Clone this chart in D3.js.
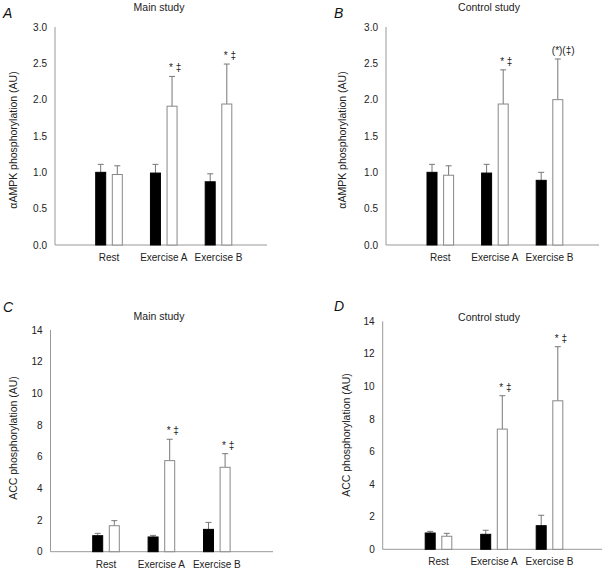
<!DOCTYPE html>
<html><head><meta charset="utf-8">
<script src="https://cdn.jsdelivr.net/npm/d3@7"></script>
<style>body{margin:0;background:#fff}svg{display:block;font-family:"Liberation Sans",Arial,sans-serif}</style>
</head><body><svg id="c" width="605" height="569"></svg>
<script>
const categories = ["Rest", "Exercise A", "Exercise B"];
// Panel A: αAMPK, main study
const aBlack = [1.00, 0.99, 0.87], aBlackErr = [0.11, 0.12, 0.11];
const aWhite = [0.97, 1.91, 1.94], aWhiteErr = [0.12, 0.41, 0.55];
const aNotes = ["", "* ‡", "* ‡"];
// Panel B: αAMPK, control study
const bBlack = [1.00, 0.99, 0.89], bBlackErr = [0.11, 0.12, 0.11];
const bWhite = [0.96, 1.94, 2.00], bWhiteErr = [0.13, 0.47, 0.56];
const bNotes = ["", "* ‡", "(*)(‡)"];
// Panel C: ACC, main study
const cBlack = [1.01, 0.93, 1.41], cBlackErr = [0.15, 0.10, 0.44];
const cWhite = [1.64, 5.75, 5.33], cWhiteErr = [0.32, 1.35, 0.86];
const cNotes = ["", "* ‡", "* ‡"];
// Panel D: ACC, control study
const dBlack = [1.00, 0.92, 1.45], dBlackErr = [0.10, 0.25, 0.64];
const dWhite = [0.80, 7.38, 9.12], dWhiteErr = [0.18, 2.05, 3.32];
const dNotes = ["", "* ‡", "* ‡"];
const ampkTicks = [0, 0.5, 1.0, 1.5, 2.0, 2.5, 3.0];
const accTicks = [0, 2, 4, 6, 8, 10, 12, 14];

const svg = d3.select("#c");
function panel(o) {
  const g = svg.append("g");
  const y = d3.scaleLinear().domain([0, o.yMax]).range([o.y0, o.y1]);
  const x = d3.scalePoint().domain(categories).range([o.c0, o.c2]);
  // axes
  g.append("line").attr("x1", o.ax).attr("x2", o.ax).attr("y1", o.y1).attr("y2", o.y0).attr("stroke", "#999").attr("stroke-width", 1);
  g.append("line").attr("x1", o.ax).attr("x2", o.axEnd).attr("y1", o.y0).attr("y2", o.y0).attr("stroke", "#999").attr("stroke-width", 1);
  g.selectAll(".yt").data(o.ticks).enter().append("text")
    .attr("x", o.ax - 8).attr("y", d => y(d)).attr("dy", "0.35em")
    .attr("text-anchor", "end").attr("font-size", 10).attr("fill", "#222")
    .text(d => o.fmt(d));
  g.selectAll(".xt").data(categories).enter().append("text")
    .attr("x", d => x(d)).attr("y", o.y0 + 16)
    .attr("text-anchor", "middle").attr("font-size", 10).attr("fill", "#222").text(d => d);
  const bw = 10, off = 8.3;
  const series = [
    {vals: o.black, errs: o.blackErr, dx: -off, fill: "#000", stroke: "#000", notes: null},
    {vals: o.white, errs: o.whiteErr, dx: off, fill: "#fff", stroke: "#888", notes: o.notes}
  ];
  series.forEach(s => {
    categories.forEach((cat, i) => {
      const cx = x(cat) + s.dx;
      const top = y(s.vals[i] + s.errs[i]);
      g.append("line").attr("x1", cx).attr("x2", cx).attr("y1", y(s.vals[i])).attr("y2", top).attr("stroke", "#777").attr("stroke-width", 1);
      g.append("line").attr("x1", cx - 3).attr("x2", cx + 3).attr("y1", top).attr("y2", top).attr("stroke", "#777").attr("stroke-width", 1);
      g.append("rect").attr("x", cx - bw / 2).attr("y", y(s.vals[i])).attr("width", bw)
        .attr("height", y(0) - y(s.vals[i])).attr("fill", s.fill).attr("stroke", s.stroke).attr("stroke-width", 1);
      if (s.notes && s.notes[i]) {
        const t = s.notes[i];
        g.append("text").attr("x", cx + (t.startsWith("(") ? -6 : -3)).attr("y", top - 5)
          .attr("font-size", 10).attr("fill", "#222").text(t);
      }
    });
  });
  g.append("text").attr("x", o.titleX).attr("y", o.titleY).attr("text-anchor", "middle")
    .attr("font-size", 10.5).attr("fill", "#222").text(o.title);
  g.append("text").attr("x", o.letterX).attr("y", o.letterY).attr("font-size", 14)
    .attr("font-style", "italic").attr("fill", "#111").text(o.letter);
  g.append("text").attr("transform", `translate(${o.labX},${o.labY}) rotate(-90)`)
    .attr("text-anchor", "middle").attr("font-size", 10.5).attr("fill", "#222").text(o.ylab);
}
const f1 = d => d.toFixed(1), f0 = d => String(d);
panel({black: aBlack, blackErr: aBlackErr, white: aWhite, whiteErr: aWhiteErr, notes: aNotes,
  yMax: 3, y0: 245, y1: 27, ax: 55, axEnd: 267, c0: 109, c2: 218.5, ticks: ampkTicks, fmt: f1,
  title: "Main study", titleX: 159, titleY: 11, letter: "A", letterX: 3, letterY: 18,
  labX: 17, labY: 140, ylab: "αAMPK phosphorylation (AU)"});
panel({black: bBlack, blackErr: bBlackErr, white: bWhite, whiteErr: bWhiteErr, notes: bNotes,
  yMax: 3, y0: 245, y1: 27, ax: 386, axEnd: 599, c0: 440.3, c2: 549.5, ticks: ampkTicks, fmt: f1,
  title: "Control study", titleX: 489, titleY: 11, letter: "B", letterX: 334, letterY: 18,
  labX: 346, labY: 140, ylab: "αAMPK phosphorylation (AU)"});
panel({black: cBlack, blackErr: cBlackErr, white: cWhite, whiteErr: cWhiteErr, notes: cNotes,
  yMax: 14, y0: 551.7, y1: 330, ax: 50.5, axEnd: 273, c0: 106, c2: 216.8, ticks: accTicks, fmt: f0,
  title: "Main study", titleX: 159, titleY: 320, letter: "C", letterX: 3, letterY: 312,
  labX: 17, labY: 438, ylab: "ACC phosphorylation (AU)"});
panel({black: dBlack, blackErr: dBlackErr, white: dWhite, whiteErr: dWhiteErr, notes: dNotes,
  yMax: 14, y0: 549.3, y1: 321.3, ax: 382.7, axEnd: 602, c0: 438.5, c2: 549.5, ticks: accTicks, fmt: f0,
  title: "Control study", titleX: 489, titleY: 320.5, letter: "D", letterX: 334, letterY: 311,
  labX: 350, labY: 435, ylab: "ACC phosphorylation (AU)"});
</script></body></html>
